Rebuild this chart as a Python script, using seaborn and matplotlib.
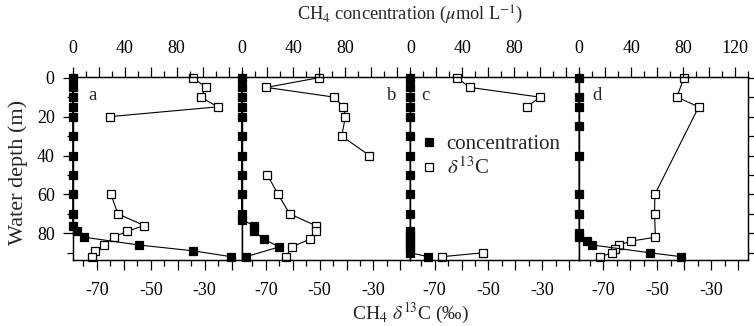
import numpy as np
import pandas as pd
import matplotlib
matplotlib.use('Agg')
import matplotlib.pyplot as plt
import seaborn as sns
from matplotlib.ticker import MultipleLocator, FuncFormatter
from matplotlib.lines import Line2D

nan = np.nan

panel_labels = ['a', 'b', 'c', 'd']

a_conc_depth = [0, 5, 10, 15, 20, 30, 40, 50, 60, 70, 76, 79, 82, 86, 89, 92]
a_conc = [0, 0, 0, 0, 0, 0, 0, 0, 0, 0, 0, 3, 9, 51, 93, 122]
a_d13c_depth = [0, 5, 10, 15, 20, nan, 60, 70, 76, 79, 82, 86, 89, 92]
a_d13c = [-34.4, -29.4, -31.4, -25.2, -65.1, nan, -64.8, -62.2, -52.4, -58.9, -63.8, -67.2, -70.7, -71.7]

b_conc_depth = [0, 5, 10, 15, 20, 30, 40, 50, 60, 70, 73, 76, 79, 83, 87, 92]
b_conc = [0, 0, 0, 0, 0, 0, 0, 0, 0, 0, 0, 9.7, 9.7, 17.4, 28.9, 3.5]
b_d13c_depth = [0, 5, 10, 15, 20, 30, 40, nan, 50, 60, 70, 76, 79, 83, 87, 92]
b_d13c = [-50.2, -69.8, -44.6, -41.2, -40.4, -41.8, -31.5, nan, -69.4, -65.4, -61.1, -51.5, -51.5, -53.5, -60.4, -62.4]

c_conc_depth = [0, 5, 10, 15, 20, 30, 40, 50, 60, 70, 79, 81, 83, 85, 87, 90, 92]
c_conc = [0, 0, 0, 0, 0, 0, 0, 0, 0, 0, 0, 0, 0, 0, 0, 0, 13.6]
c_d13c_depth = [0, 5, 10, 15, nan, 90, 92]
c_d13c = [-61.7, -56.9, -30.9, -35.7, nan, -52.1, -67.2]

d_conc_depth = [0, 10, 15, 25, 40, 60, 70, 80, 82, 84, 86, 90, 92]
d_conc = [0, 0, 0, 0, 0, 0, 0, 0, 0, 6.4, 10.2, 54.6, 78.5]
d_d13c_depth = [0, 10, 15, 60, 70, 82, 84, 86, 88, 90, 92]
d_d13c = [-40.1, -42.7, -34.6, -50.9, -51.0, -50.7, -59.8, -64.1, -65.7, -66.7, -71.3]

conc_sets = [(a_conc_depth, a_conc), (b_conc_depth, b_conc), (c_conc_depth, c_conc), (d_conc_depth, d_conc)]
d13c_sets = [(a_d13c_depth, a_d13c), (b_d13c_depth, b_d13c), (c_d13c_depth, c_d13c), (d_d13c_depth, d_d13c)]

sns.set_style('ticks')
plt.rcParams['font.family'] = ['Liberation Serif', 'DejaVu Serif']
plt.rcParams['mathtext.fontset'] = 'stix'
plt.rcParams['axes.linewidth'] = 0.9
plt.rcParams['xtick.color'] = 'black'
plt.rcParams['ytick.color'] = 'black'
plt.rcParams['axes.edgecolor'] = 'black'

W, H = 754, 326
fig = plt.figure(figsize=(W / 100, H / 100), dpi=100)

left_px, right_px, top_px, bot_px = 72.7, 748.0, 76.7, 260.0
pw = (right_px - left_px) / 4

TICK_FS = 13
LET_FS = 13.5
LEG_FS = 15


def seg_frame(depth, val, name):
    df = pd.DataFrame({'depth': depth, name: val})
    df['seg'] = df[name].isna().cumsum()
    return df.dropna().reset_index(drop=True)


def lab_d13c(v, p):
    r = int(round(v))
    return str(r) if r in (-70, -50, -30) else ''


def make_conc_fmt(last):
    allowed = (0, 40, 80, 120) if last else (0, 40, 80)

    def f(v, p):
        r = int(round(v))
        return str(r) if r in allowed else ''
    return f


for i, lab in enumerate(panel_labels):
    x0 = left_px + i * pw
    ax = fig.add_axes([x0 / W, 1 - bot_px / H, pw / W, (bot_px - top_px) / H])
    axt = ax.twiny()

    ddf = seg_frame(*d13c_sets[i], 'd13c')
    cdf = seg_frame(*conc_sets[i], 'conc')

    sns.lineplot(data=ddf, x='d13c', y='depth', units='seg', estimator=None, sort=False,
                 color='black', lw=0.8, marker='s', markersize=5.4, markerfacecolor='white',
                 markeredgecolor='black', markeredgewidth=0.9, ax=ax, legend=False, clip_on=False)
    sns.lineplot(data=cdf, x='conc', y='depth', units='seg', estimator=None, sort=False,
                 color='black', lw=0.8, marker='s', markersize=5.4, markerfacecolor='black',
                 markeredgecolor='black', markeredgewidth=0.9, ax=axt, legend=False, clip_on=False)

    ax.set_xlim(-79, -16.3)
    axt.set_xlim(0, 130)
    ax.set_ylim(93.7, -0.5)

    ax.set_xlabel('')
    ax.set_ylabel('')
    axt.set_xlabel('')
    axt.set_ylabel('')

    ax.xaxis.set_major_locator(MultipleLocator(10))
    ax.xaxis.set_minor_locator(MultipleLocator(5))
    ax.xaxis.set_major_formatter(FuncFormatter(lab_d13c))
    axt.xaxis.set_major_locator(MultipleLocator(20))
    axt.xaxis.set_minor_locator(MultipleLocator(10))
    axt.xaxis.set_major_formatter(FuncFormatter(make_conc_fmt(i == 3)))
    ax.yaxis.set_major_locator(MultipleLocator(20))
    ax.yaxis.set_minor_locator(MultipleLocator(10))

    ax.tick_params(axis='x', which='major', direction='out', length=7, width=0.9, pad=8.5, labelsize=TICK_FS)
    ax.tick_params(axis='x', which='minor', direction='out', length=4, width=0.9)
    axt.tick_params(axis='x', which='major', direction='out', length=7, width=0.9, pad=7, labelsize=TICK_FS)
    axt.tick_params(axis='x', which='minor', direction='out', length=4, width=0.9)

    if i == 0:
        ax.tick_params(axis='y', which='major', direction='out', length=7, width=0.9, pad=6, labelsize=TICK_FS)
        ax.tick_params(axis='y', which='minor', direction='out', length=4, width=0.9)
    else:
        ax.tick_params(axis='y', which='both', left=False, labelleft=False)
    if i == 3:
        ax.tick_params(axis='y', which='both', right=True, labelright=False, direction='out', length=4.2, width=0.9)
    axt.tick_params(axis='y', which='both', left=False, right=False, labelleft=False, labelright=False)

    for s in ax.spines.values():
        s.set_visible(True)
        s.set_linewidth(0.9)
    for s in axt.spines.values():
        s.set_linewidth(0.9)

    lx = {0: 0.118, 1: 0.89, 2: 0.09, 3: 0.107}[i]
    ax.text(lx, 0.9, lab, transform=ax.transAxes, ha='center', va='center', fontsize=LET_FS)

    if i == 2:
        handles = [
            Line2D([], [], ls='none', marker='s', markersize=5.4, markerfacecolor='black', markeredgecolor='black', markeredgewidth=0.9),
            Line2D([], [], ls='none', marker='s', markersize=5.4, markerfacecolor='white', markeredgecolor='black', markeredgewidth=0.9),
        ]
        ax.legend(handles, ['concentration', r'$\delta^{13}$C'], loc='upper left',
                  bbox_to_anchor=(0.06, 0.685), frameon=False, fontsize=LEG_FS,
                  handlelength=0.8, handletextpad=0.45, borderaxespad=0, borderpad=0,
                  labelspacing=0.15)

fig.text(410.4 / W, 1 - 15 / H, r'CH$_4$ concentration ($\mu$mol L$^{\mathrm{-1}}$)',
         ha='center', va='center', fontsize=13.2)
fig.text(410.4 / W, 1 - 313 / H, r'CH$_4$ $\delta^{13}$C (‰)', ha='center', va='center', fontsize=14)
fig.text(18 / W, 1 - 172 / H, 'Water depth (m)', rotation=90, ha='center', va='center', fontsize=16)

fig.savefig('out.png', dpi=100)
